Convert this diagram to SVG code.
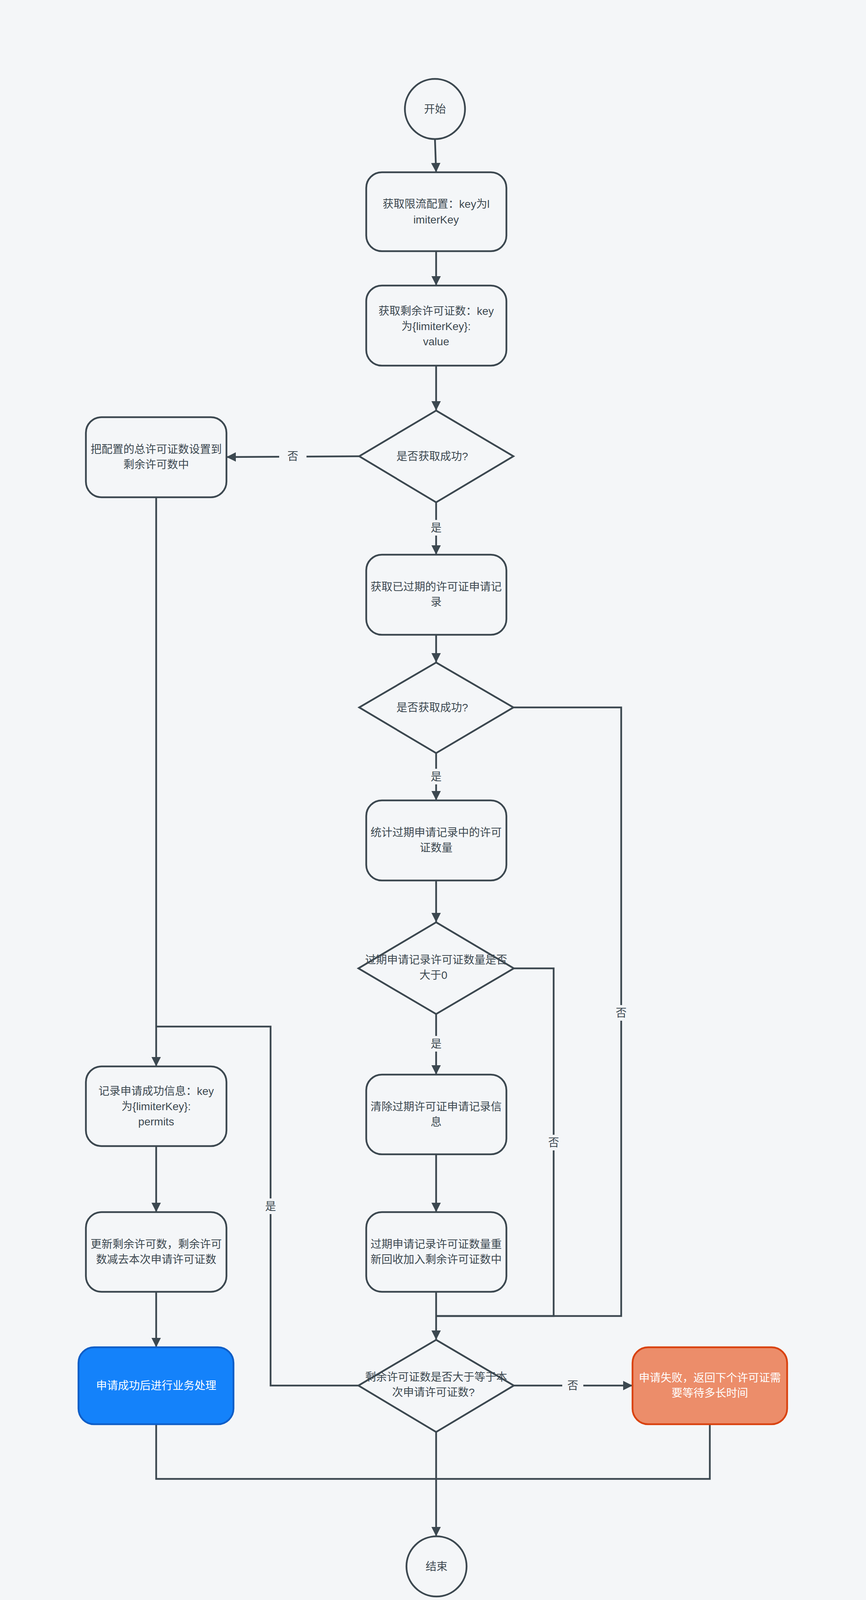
<svg xmlns="http://www.w3.org/2000/svg" width="2218" height="4290" viewBox="0 0 2218 4290">
<style>
.n{fill:#f4f6f8;stroke:#3c4850;stroke-width:4.5}
.t{font-family:"Liberation Sans","Noto Sans CJK SC",sans-serif;font-size:28px;fill:#3c4850;text-anchor:middle}
.w{fill:#ffffff}
.c{fill:none;stroke:#3c4850;stroke-width:4.5}
.lb{fill:#f4f6f8}
</style>
<defs>
<marker id="ah" viewBox="0 0 10 10" refX="10" refY="5" markerWidth="24" markerHeight="24" orient="auto" markerUnits="userSpaceOnUse"><path d="M0,0L10,5L0,10z" fill="#3c4850"/></marker></defs>
<rect width="2218" height="4290" fill="#f4f6f8"/>
<g id="connectors">
<path class="c" d="M1114,356L1117,441" marker-end="url(#ah)"/>
<path class="c" d="M1117,643V731" marker-end="url(#ah)"/>
<path class="c" d="M1117,936V1051" marker-end="url(#ah)"/>
<path class="c" d="M920,1168L580,1170" marker-end="url(#ah)"/>
<path class="c" d="M1117,1286V1420" marker-end="url(#ah)"/>
<path class="c" d="M1117,1625V1696" marker-end="url(#ah)"/>
<path class="c" d="M1117,1928V2049" marker-end="url(#ah)"/>
<path class="c" d="M1117,2254V2361" marker-end="url(#ah)"/>
<path class="c" d="M1117,2596V2751" marker-end="url(#ah)"/>
<path class="c" d="M1117,2955V3103" marker-end="url(#ah)"/>
<path class="c" d="M1117,3307V3430" marker-end="url(#ah)"/>
<path class="c" d="M1316,2479H1418V3369H1117"/>
<path class="c" d="M1315,1811H1591V3369H1117"/>
<path class="c" d="M400,1273V2730" marker-end="url(#ah)"/>
<path class="c" d="M918,3547H693V2628H400"/>
<path class="c" d="M400,2934V3103" marker-end="url(#ah)"/>
<path class="c" d="M400,3307V3449" marker-end="url(#ah)"/>
<path class="c" d="M1316,3547H1620" marker-end="url(#ah)"/>
<path class="c" d="M400,3646V3786H1818V3646"/>
<path class="c" d="M1117,3666V3933" marker-end="url(#ah)"/>
<rect class="lb" x="715" y="1148" width="70" height="40"/><text class="t" x="750" y="1178">否</text>
<rect class="lb" x="1097" y="1331" width="40" height="40"/><text class="t" x="1117" y="1361">是</text>
<rect class="lb" x="1097" y="1968" width="40" height="40"/><text class="t" x="1117" y="1998">是</text>
<rect class="lb" x="1097" y="2652" width="40" height="40"/><text class="t" x="1117" y="2682">是</text>
<rect class="lb" x="1398" y="2905" width="40" height="40"/><text class="t" x="1418" y="2935">否</text>
<rect class="lb" x="1571" y="2573" width="40" height="40"/><text class="t" x="1591" y="2603">否</text>
<rect class="lb" x="673" y="3068" width="40" height="40"/><text class="t" x="693" y="3098">是</text>
<rect class="lb" x="1440" y="3527" width="54" height="40"/><text class="t" x="1467" y="3557">否</text>
</g>
<g id="start"><circle class="n" cx="1114" cy="279" r="77"/><text class="t" x="1114" y="289">开始</text></g>
<g id="n1"><rect class="n" x="938" y="441" width="359" height="202" rx="40"/><text class="t" x="1117" y="532">获取限流配置：key为l</text><text class="t" x="1117" y="572">imiterKey</text></g>
<g id="n2"><rect class="n" x="938" y="731" width="359" height="205" rx="40"/><text class="t" x="1117" y="806">获取剩余许可证数：key</text><text class="t" x="1117" y="845">为{limiterKey}:</text><text class="t" x="1117" y="884">value</text></g>
<g id="d1"><polygon class="n" points="1117,1051 1315,1168 1117,1286 920,1168"/><text class="t" x="1107" y="1178">是否获取成功?</text></g>
<g id="n3"><rect class="n" x="220" y="1068" width="360" height="205" rx="40"/><text class="t" x="400" y="1160">把配置的总许可证数设置到</text><text class="t" x="400" y="1199">剩余许可数中</text></g>
<g id="n4"><rect class="n" x="938" y="1420" width="359" height="205" rx="40"/><text class="t" x="1117" y="1512" font-size="27">获取已过期的许可证申请记</text><text class="t" x="1117" y="1551">录</text></g>
<g id="d2"><polygon class="n" points="1117,1696 1315,1811 1117,1928 920,1811"/><text class="t" x="1107" y="1821">是否获取成功?</text></g>
<g id="n5"><rect class="n" x="938" y="2049" width="359" height="205" rx="40"/><text class="t" x="1117" y="2141">统计过期申请记录中的许可</text><text class="t" x="1117" y="2180">证数量</text></g>
<g id="d3"><polygon class="n" points="1117,2361 1316,2479 1117,2596 918,2479"/><text class="t" x="1117" y="2467">过期申请记录许可证数量是否</text><text class="t" x="1110" y="2506">大于0</text></g>
<g id="n6"><rect class="n" x="938" y="2751" width="359" height="204" rx="40"/><text class="t" x="1117" y="2843">清除过期许可证申请记录信</text><text class="t" x="1117" y="2882">息</text></g>
<g id="n7"><rect class="n" x="938" y="3103" width="359" height="204" rx="40"/><text class="t" x="1117" y="3195">过期申请记录许可证数量重</text><text class="t" x="1117" y="3234">新回收加入剩余许可证数中</text></g>
<g id="n8"><rect class="n" x="220" y="2730" width="360" height="204" rx="40"/><text class="t" x="400" y="2803">记录申请成功信息：key</text><text class="t" x="400" y="2842">为{limiterKey}:</text><text class="t" x="400" y="2881">permits</text></g>
<g id="n9"><rect class="n" x="220" y="3103" width="360" height="204" rx="40"/><text class="t" x="400" y="3195">更新剩余许可数，剩余许可</text><text class="t" x="400" y="3234">数减去本次申请许可证数</text></g>
<g id="d4"><polygon class="n" points="1117,3430 1316,3547 1117,3666 918,3547"/><text class="t" x="1117" y="3535">剩余许可证数是否大于等于本</text><text class="t" x="1110" y="3574">次申请许可证数?</text></g>
<g id="n10"><rect x="201" y="3449" width="397" height="197" rx="40" fill="#1482fa" stroke="#0f5ec7" stroke-width="4.5"/><text class="t w" x="400" y="3557">申请成功后进行业务处理</text></g>
<g id="n11"><rect x="1620" y="3449" width="396" height="197" rx="40" fill="#ec8d6a" stroke="#d9420f" stroke-width="4.5"/><text class="t w" x="1818" y="3537">申请失败，返回下个许可证需</text><text class="t w" x="1818" y="3576">要等待多长时间</text></g>
<g id="end"><circle class="n" cx="1118" cy="4010" r="77"/><text class="t" x="1118" y="4020">结束</text></g>
<text x="2190" y="4270" font-family="'Liberation Sans','Noto Sans CJK SC',sans-serif" font-size="16" fill="#b0b4b8" text-anchor="end">@稀土掘金技术社区</text>
</svg>
